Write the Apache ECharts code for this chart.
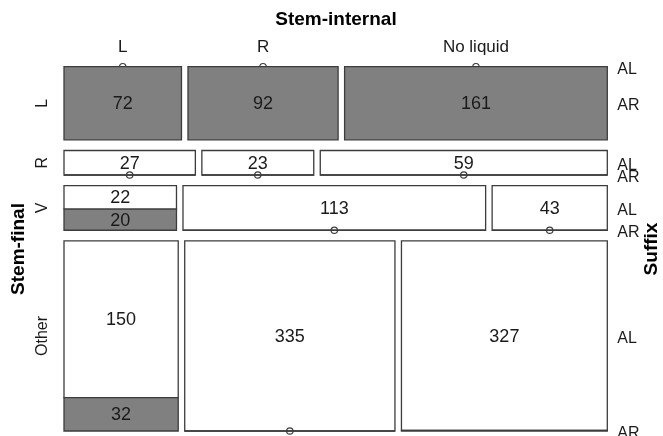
<!DOCTYPE html>
<html>
<head>
<meta charset="utf-8">
<script src="https://cdn.jsdelivr.net/npm/echarts@6/dist/echarts.min.js"></script>
<style>
  html, body { margin: 0; padding: 0; background: #fff; }
  #chart { width: 663px; height: 436px; }
</style>
</head>
<body>
<div id="chart"></div>
<script>
// Levels of the three variables
const stemFinal = ['L', 'R', 'V', 'Other'];
const stemInternal = ['L', 'R', 'No liquid'];
const suffixLevels = ['AL', 'AR'];

// Counts, rows = Stem-final, columns = Stem-internal
const countsAL = [
  [0, 0, 0],
  [27, 23, 59],
  [22, 113, 43],
  [150, 335, 327]
];
const countsAR = [
  [72, 92, 161],
  [0, 0, 0],
  [20, 0, 0],
  [32, 0, 1]
];

const FONT = '"Liberation Sans", Arial, sans-serif';
const GAP_ROW = 0.0322;   // space between Stem-final rows (fraction of total height)
const GAP_COL = 0.01226;  // space between Stem-internal columns (fraction of width)

// Build mosaic tiles in unit coordinates
const total = countsAL.flat().concat(countsAR.flat()).reduce((a, b) => a + b, 0);
const tiles = [];
const rowCenters = [];
const colCentersFirstRow = [];
const suffixMarks = [];
let cumRow = 0;
stemFinal.forEach((rowName, i) => {
  const rowTotal = countsAL[i].reduce((a, b) => a + b, 0) + countsAR[i].reduce((a, b) => a + b, 0);
  const h = rowTotal / total;
  const y0 = cumRow + i * GAP_ROW;
  rowCenters.push([y0 + h / 2, rowName]);
  let cumCol = 0;
  stemInternal.forEach((colName, j) => {
    const nAL = countsAL[i][j], nAR = countsAR[i][j];
    const colTotal = nAL + nAR;
    const w = colTotal / rowTotal;
    const x0 = cumCol + j * GAP_COL;
    const yMid = y0 + h * nAL / colTotal;
    tiles.push([x0, x0 + w, y0, yMid, nAL, 0]);
    tiles.push([x0, x0 + w, yMid, y0 + h, nAR, 1]);
    if (i === 0) colCentersFirstRow.push([x0 + w / 2, colName]);
    if (j === stemInternal.length - 1) {
      suffixMarks.push([(y0 + yMid) / 2, suffixLevels[0]]);
      suffixMarks.push([(yMid + y0 + h) / 2, suffixLevels[1]]);
    }
    cumCol += w;
  });
  cumRow += h;
});

const X_MAX = 1 + (stemInternal.length - 1) * GAP_COL;
const Y_MAX = 1 + (stemFinal.length - 1) * GAP_ROW;

function renderTile(params, api) {
  const p0 = api.coord([api.value(0), api.value(2)]);
  const p1 = api.coord([api.value(1), api.value(3)]);
  const n = api.value(4);
  const s = api.value(5);
  if (n === 0) {
    const cy = p0[1];
    return {
      type: 'group',
      children: [
        { type: 'line', shape: { x1: p0[0], y1: cy, x2: p1[0], y2: cy },
          style: { stroke: '#3c3c3c', lineWidth: 1.3 } },
        { type: 'circle', shape: { cx: (p0[0] + p1[0]) / 2, cy: cy, r: 3.2 },
          style: { fill: 'none', stroke: '#3c3c3c', lineWidth: 1.2 } }
      ]
    };
  }
  const children = [{
    type: 'rect',
    shape: { x: p0[0], y: p0[1], width: p1[0] - p0[0], height: p1[1] - p0[1] },
    style: { fill: s ? '#808080' : '#ffffff', stroke: '#3c3c3c', lineWidth: 1.3 }
  }];
  if (p1[1] - p0[1] > 10) {
    children.push({
      type: 'text',
      style: {
        x: (p0[0] + p1[0]) / 2, y: (p0[1] + p1[1]) / 2 + 1,
        text: String(n), fill: '#1a1a1a', font: '18px ' + FONT,
        align: 'center', verticalAlign: 'middle'
      }
    });
  }
  return { type: 'group', children: children };
}

function renderColLabel(params, api) {
  const p = api.coord([api.value(0), 0]);
  return { type: 'text', style: { x: p[0], y: p[1] - 19, text: colCentersFirstRow[params.dataIndex][1],
    fill: '#1a1a1a', font: '17px ' + FONT, align: 'center', verticalAlign: 'middle' } };
}

function renderRowLabel(params, api) {
  const p = api.coord([0, api.value(0)]);
  return { type: 'text', x: p[0] - 21, y: p[1], rotation: Math.PI / 2,
    style: { x: 0, y: 0, text: rowCenters[params.dataIndex][1],
      fill: '#1a1a1a', font: '16px ' + FONT, align: 'center', verticalAlign: 'middle' } };
}

function renderSuffixLabel(params, api) {
  const p = api.coord([X_MAX, api.value(0)]);
  return { type: 'text', style: { x: p[0] + 10, y: p[1] + 2.5, text: suffixMarks[params.dataIndex][1],
    fill: '#1a1a1a', font: '16px ' + FONT, align: 'left', verticalAlign: 'middle' } };
}

const chart = echarts.init(document.getElementById('chart'), null, { renderer: 'canvas' });
chart.setOption({
  animation: false,
  backgroundColor: '#ffffff',
  grid: { left: 64, right: 55.7, top: 66.7, bottom: 5 },
  xAxis: { type: 'value', min: 0, max: X_MAX, show: false },
  yAxis: { type: 'value', min: 0, max: Y_MAX, inverse: true, show: false },
  series: [
    { type: 'custom', renderItem: renderTile, data: tiles, clip: false },
    { type: 'custom', renderItem: renderColLabel, data: colCentersFirstRow.map(d => [d[0]]), clip: false },
    { type: 'custom', renderItem: renderRowLabel, data: rowCenters.map(d => [d[0]]), clip: false },
    { type: 'custom', renderItem: renderSuffixLabel, data: suffixMarks.map(d => [d[0]]), clip: false }
  ],
  graphic: [
    { type: 'text', x: 336, y: 20, style: { text: 'Stem-internal', font: 'bold 19px ' + FONT,
      fill: '#000', align: 'center', verticalAlign: 'middle' } },
    { type: 'text', x: 19, y: 249, rotation: Math.PI / 2, style: { text: 'Stem-final',
      font: 'bold 19px ' + FONT, fill: '#000', align: 'center', verticalAlign: 'middle' } },
    { type: 'text', x: 652, y: 249, rotation: Math.PI / 2, style: { text: 'Suffix',
      font: 'bold 19px ' + FONT, fill: '#000', align: 'center', verticalAlign: 'middle' } }
  ]
});
</script>
</body>
</html>
